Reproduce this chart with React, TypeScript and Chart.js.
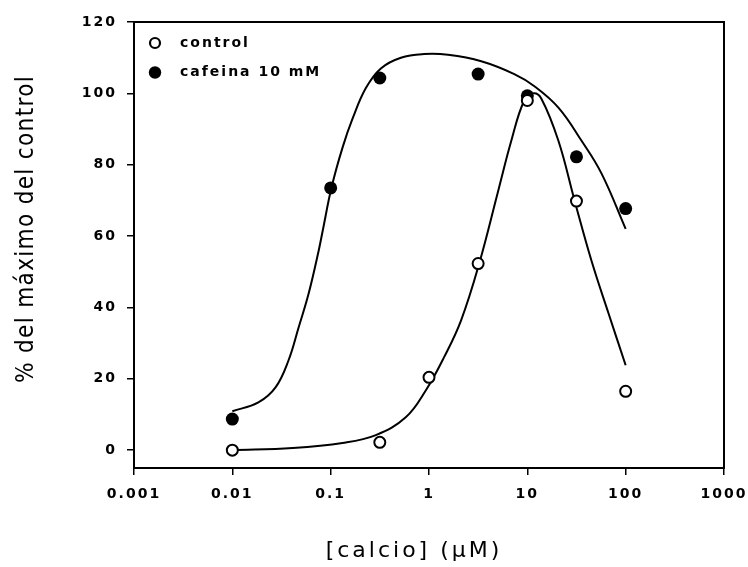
import React, { useEffect, useRef } from 'react';
import { Chart, registerables } from 'chart.js';

Chart.register(...registerables);

// Measured points
const controlX = [0.01, 0.316, 1, 3.16, 10, 31.6, 100];
const controlY = [0, 2.2, 20.4, 52.3, 98, 69.8, 16.5];
const cafX = [0.01, 0.1, 0.316, 3.16, 10, 31.6, 100];
const cafY = [8.7, 73.5, 104.3, 105.4, 99.3, 82.2, 67.7];

// Fitted curves
const controlCurveX = [0.01, 0.041, 0.132, 0.288, 0.58, 0.93, 1.42, 2.12, 3.24, 5.06, 6.87, 9.3, 11.5, 13.9, 20.7, 30.2, 45, 67, 100];
const controlCurveY = [0, 0.6, 2, 4.2, 9.2, 16.8, 26, 36.4, 52.3, 72.7, 86.7, 98, 100, 98.5, 86.7, 70, 53, 38.3, 23.8];
const cafCurveX = [0.01, 0.0184, 0.0275, 0.0373, 0.0472, 0.0597, 0.0755, 0.083, 0.102, 0.132, 0.168, 0.228, 0.324, 0.518, 0.889, 1.56, 3.4, 7.37, 11.8, 20.7, 35.6, 56.9, 100];
const cafCurveY = [10.9, 13.4, 17.6, 25.2, 34.4, 43.9, 55.9, 61.5, 73.6, 84.8, 93.1, 101.5, 107, 110, 111, 110.8, 109, 105.4, 102, 96, 86.7, 77.5, 62];

const xTickValues = [0.001, 0.01, 0.1, 1, 10, 100, 1000];
const xTickLabels = ['0.001', '0.01', '0.1', '1', '10', '100', '1000'];
const yTickValues = [0, 20, 40, 60, 80, 100, 120];
const yTickLabels = ['0', '20', '40', '60', '80', '100', '120'];

const legendLabels = ['control', 'cafeina 10 mM'];
const xTitle = '[calcio] (\u03BCM)';
const yTitle = '% del m\u00E1ximo del control';

const pts = (xs: number[], ys: number[]) => xs.map((x, i) => ({ x, y: ys[i] }));

export default function App() {
  const ref = useRef<HTMLCanvasElement>(null);
  useEffect(() => {
    document.body.style.margin = '0';
    const canvas = ref.current!;
    const spacingPlugin = {
      id: 'spacing',
      beforeDraw(chart: any) {
        try { (chart.ctx as any).letterSpacing = '2px'; } catch (e) {}
      },
    };
    const decorPlugin = {
      id: 'decor',
      afterDraw(chart: any) {
        const ctx = chart.ctx as CanvasRenderingContext2D;
        const a = chart.chartArea;
        ctx.save();
        // frame
        ctx.strokeStyle = '#000';
        ctx.lineWidth = 2;
        ctx.strokeRect(a.left, a.top, a.right - a.left, a.bottom - a.top);
        // legend
        const lx = a.left + 21;
        ctx.fillStyle = '#fff';
        ctx.beginPath();
        ctx.arc(lx, a.top + 21, 5, 0, Math.PI * 2);
        ctx.fill();
        ctx.lineWidth = 2.2;
        ctx.stroke();
        ctx.fillStyle = '#000';
        ctx.beginPath();
        ctx.arc(lx, a.top + 50.5, 6.2, 0, Math.PI * 2);
        ctx.fill();
        (ctx as any).letterSpacing = '2px';
        ctx.font = 'bold 14px "DejaVu Sans"';
        ctx.textAlign = 'left';
        ctx.textBaseline = 'middle';
        ctx.fillText(legendLabels[0], a.left + 46, a.top + 21);
        ctx.fillText(legendLabels[1], a.left + 46, a.top + 50.5);
        // x title
        (ctx as any).letterSpacing = '3px';
        ctx.font = '22px "DejaVu Sans"';
        ctx.textAlign = 'center';
        ctx.textBaseline = 'alphabetic';
        ctx.fillText(xTitle, 414, 557);
        // y title, fitted to its measured length
        (ctx as any).letterSpacing = '1.5px';
        ctx.font = '25px "DejaVu Sans"';
        const w = ctx.measureText(yTitle).width;
        const sx = 308 / w;
        ctx.translate(33, 229);
        ctx.rotate(-Math.PI / 2);
        ctx.scale(sx, 1);
        ctx.textAlign = 'center';
        ctx.fillText(yTitle, 0, 0);
        ctx.restore();
      },
    };
    const curveStyle = {
      showLine: true,
      pointRadius: 0,
      borderColor: '#000',
      borderWidth: 2,
      tension: 0.4,
      order: 1,
    };
    const chart = new Chart(canvas, {
      type: 'scatter',
      data: {
        datasets: [
          {
            label: legendLabels[0],
            data: pts(controlX, controlY),
            pointRadius: 5.5,
            pointBorderWidth: 2,
            pointBackgroundColor: '#fff',
            pointBorderColor: '#000',
            order: 0,
          },
          {
            label: legendLabels[1],
            data: pts(cafX, cafY),
            pointRadius: 6.5,
            pointBorderWidth: 0,
            pointBackgroundColor: '#000',
            pointBorderColor: '#000',
            order: 0,
          },
          { label: 'control fit', data: pts(controlCurveX, controlCurveY), ...curveStyle },
          { label: 'cafeina fit', data: pts(cafCurveX, cafCurveY), ...curveStyle },
        ],
      },
      options: {
        animation: false,
        responsive: false,
        events: [],
        layout: { padding: { top: 22, right: 24, left: 0, bottom: 0 } },
        plugins: { legend: { display: false }, tooltip: { enabled: false } },
        scales: {
          x: {
            type: 'logarithmic',
            min: 0.001,
            max: 1000,
            afterBuildTicks: (s: any) => { s.ticks = xTickValues.map((v) => ({ value: v })); },
            afterFit: (s: any) => { s.height = 99; s.paddingLeft = 0; s.paddingRight = 0; },
            ticks: {
              autoSkip: false,
              maxRotation: 0,
              padding: 11,
              color: '#000',
              font: { family: 'DejaVu Sans', size: 14, weight: 'bold' },
              callback: (_v: any, i: number) => xTickLabels[i],
            },
            grid: { drawOnChartArea: false, tickLength: 7, color: '#000', lineWidth: 1.5 },
            border: { display: true, color: '#000', width: 2 },
          },
          y: {
            min: -5,
            max: 120,
            afterBuildTicks: (s: any) => { s.ticks = yTickValues.map((v) => ({ value: v })); },
            afterFit: (s: any) => { s.width = 134; s.paddingTop = 0; s.paddingBottom = 0; },
            ticks: {
              padding: 10,
              color: '#000',
              font: { family: 'DejaVu Sans', size: 14, weight: 'bold' },
              callback: (_v: any, i: number) => yTickLabels[i],
            },
            grid: { drawOnChartArea: false, tickLength: 7, color: '#000', lineWidth: 1.5 },
            border: { display: true, color: '#000', width: 2 },
          },
        },
      },
      plugins: [spacingPlugin, decorPlugin],
    } as any);
    return () => chart.destroy();
  }, []);
  return (
    <div style={{ width: 748, height: 567 }}>
      <canvas ref={ref} width={748} height={567} />
    </div>
  );
}
